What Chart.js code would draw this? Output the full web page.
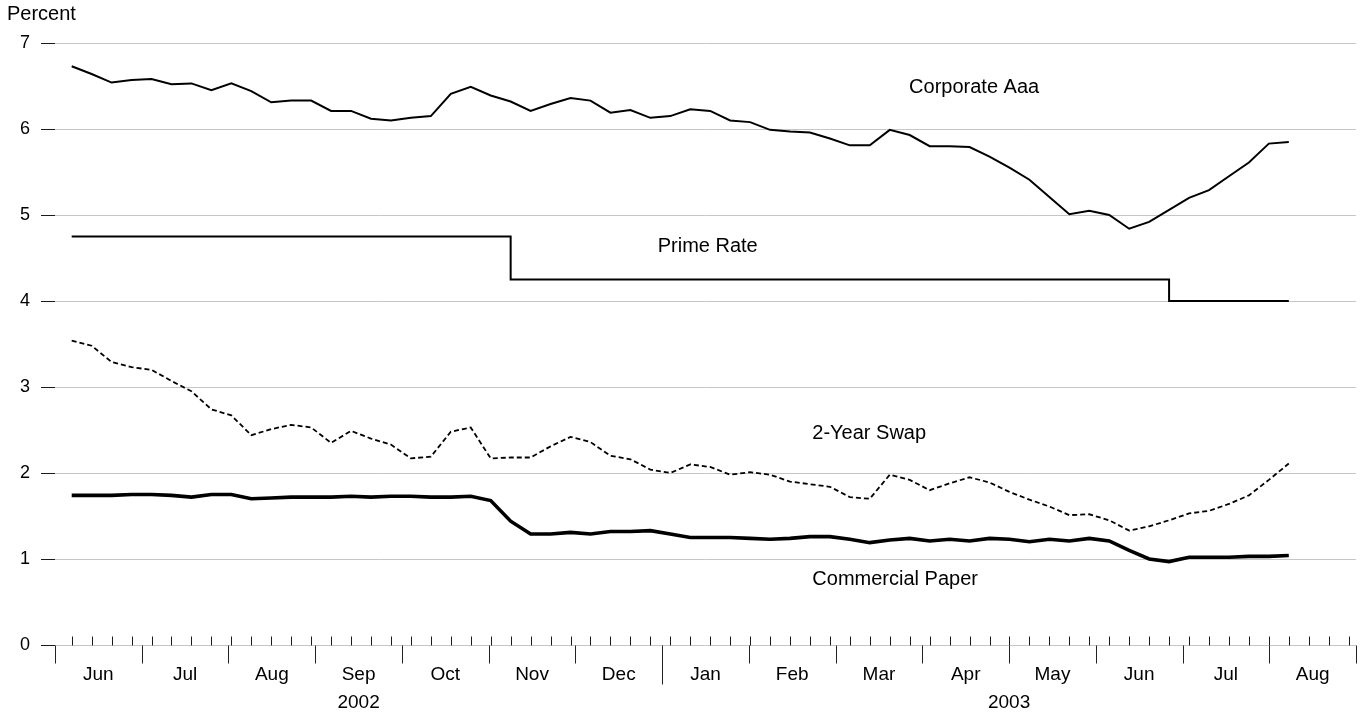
<!DOCTYPE html>
<html>
<head>
<meta charset="utf-8">
<script src="https://cdn.jsdelivr.net/npm/chart.js@4.4.1/dist/chart.umd.min.js"></script>
<style>
  html, body { margin: 0; padding: 0; background: #fff; }
  #wrap { width: 1364px; height: 715px; position: relative; }
</style>
</head>
<body>
<div id="wrap"><canvas id="myChart"></canvas></div>
<script>
// weekly readings, Jun 7 2002 .. Aug 8 2003 (x = week number)
const corporateAaa = [
  6.73, 6.64, 6.54, 6.57, 6.58, 6.52, 6.53, 6.45, 6.53, 6.44,
  6.31, 6.33, 6.33, 6.21, 6.21, 6.12, 6.10, 6.13, 6.15, 6.41,
  6.49, 6.39, 6.32, 6.21, 6.29, 6.36, 6.33, 6.19, 6.22, 6.13,
  6.15, 6.23, 6.21, 6.10, 6.08, 5.99, 5.97, 5.96, 5.89, 5.81,
  5.81, 5.99, 5.93, 5.80, 5.80, 5.79, 5.68, 5.55, 5.41, 5.21,
  5.01, 5.05, 5.00, 4.84, 4.92, 5.06, 5.20, 5.29, 5.45, 5.61,
  5.83, 5.85
];
const primeRate = [
  4.75, 4.75, 4.75, 4.75, 4.75, 4.75, 4.75, 4.75, 4.75, 4.75,
  4.75, 4.75, 4.75, 4.75, 4.75, 4.75, 4.75, 4.75, 4.75, 4.75,
  4.75, 4.75, 4.25, 4.25, 4.25, 4.25, 4.25, 4.25, 4.25, 4.25,
  4.25, 4.25, 4.25, 4.25, 4.25, 4.25, 4.25, 4.25, 4.25, 4.25,
  4.25, 4.25, 4.25, 4.25, 4.25, 4.25, 4.25, 4.25, 4.25, 4.25,
  4.25, 4.25, 4.25, 4.25, 4.25, 4.00, 4.00, 4.00, 4.00, 4.00,
  4.00, 4.00
];
const swap2Year = [
  3.54, 3.48, 3.29, 3.23, 3.20, 3.07, 2.95, 2.74, 2.67, 2.44,
  2.51, 2.56, 2.53, 2.35, 2.49, 2.40, 2.33, 2.17, 2.19, 2.48,
  2.53, 2.17, 2.18, 2.18, 2.31, 2.42, 2.36, 2.20, 2.16, 2.04,
  2.00, 2.10, 2.07, 1.98, 2.01, 1.98, 1.90, 1.87, 1.84, 1.72,
  1.70, 1.98, 1.92, 1.80, 1.88, 1.95, 1.89, 1.78, 1.69, 1.61,
  1.51, 1.52, 1.45, 1.33, 1.38, 1.45, 1.53, 1.56, 1.64, 1.74,
  1.92, 2.11
];
const commercialPaper = [
  1.74, 1.74, 1.74, 1.75, 1.75, 1.74, 1.72, 1.75, 1.75, 1.70,
  1.71, 1.72, 1.72, 1.72, 1.73, 1.72, 1.73, 1.73, 1.72, 1.72,
  1.73, 1.68, 1.44, 1.29, 1.29, 1.31, 1.29, 1.32, 1.32, 1.33,
  1.29, 1.25, 1.25, 1.25, 1.24, 1.23, 1.24, 1.26, 1.26, 1.23,
  1.19, 1.22, 1.24, 1.21, 1.23, 1.21, 1.24, 1.23, 1.20, 1.23,
  1.21, 1.24, 1.21, 1.10, 1.00, 0.97, 1.02, 1.02, 1.02, 1.03,
  1.03, 1.04
];

const monthLabels = ['Jun', 'Jul', 'Aug', 'Sep', 'Oct', 'Nov', 'Dec',
                     'Jan', 'Feb', 'Mar', 'Apr', 'May', 'Jun', 'Jul', 'Aug'];
const yearLabels = ['2002', '2003'];
const monthsInYear = [7, 8];
const yTicks = [0, 1, 2, 3, 4, 5, 6, 7];

// axis layout (in weeks)
const firstMonthEdge = -0.837;
const weeksPerMonth = 4.347;
const weekTickCount = 65;

const FONT = "'Liberation Sans', Arial, Helvetica, sans-serif";

// where the series names sit (week, percent)
const seriesNotes = [
  { text: 'Corporate Aaa', x: 41.97, y: 6.48 },
  { text: 'Prime Rate', x: 29.37, y: 4.63 },
  { text: '2-Year Swap', x: 37.12, y: 2.465 },
  { text: 'Commercial Paper', x: 37.12, y: 0.756 }
];

function toPoints(values) {
  return values.map((v, i) => ({ x: i, y: v }));
}

const axisPainter = {
  id: 'axisPainter',
  afterDraw(chart) {
    const ctx = chart.ctx;
    const x = chart.scales.x;
    const y = chart.scales.y;
    const base = Math.round(y.getPixelForValue(0)) + 0.5;

    ctx.save();
    ctx.lineWidth = 1;
    ctx.strokeStyle = '#1a1a1a';
    ctx.beginPath();
    for (let w = 0; w < weekTickCount; w++) {
      const px = Math.round(x.getPixelForValue(w)) + 0.5;
      ctx.moveTo(px, base - 9);
      ctx.lineTo(px, base);
    }
    ctx.stroke();

    // month boundaries, the year break is longer
    ctx.strokeStyle = '#222';
    ctx.beginPath();
    for (let m = 0; m <= monthLabels.length; m++) {
      const px = Math.round(x.getPixelForValue(firstMonthEdge + m * weeksPerMonth)) + 0.5;
      const len = (m === monthsInYear[0]) ? 39 : 18;
      ctx.moveTo(px, base);
      ctx.lineTo(px, base + len);
    }
    ctx.stroke();

    ctx.fillStyle = '#000';
    ctx.font = '19px ' + FONT;
    ctx.textAlign = 'center';
    ctx.textBaseline = 'middle';
    monthLabels.forEach((lab, m) => {
      const mid = firstMonthEdge + (m + 0.5) * weeksPerMonth;
      ctx.fillText(lab, x.getPixelForValue(mid), base + 29);
    });

    let start = 0;
    yearLabels.forEach((lab, k) => {
      const mid = firstMonthEdge + (start + monthsInYear[k] / 2) * weeksPerMonth;
      ctx.fillText(lab, x.getPixelForValue(mid), base + 57);
      start += monthsInYear[k];
    });

    // series names
    ctx.font = '20px ' + FONT;
    ctx.textAlign = 'left';
    seriesNotes.forEach(n => {
      ctx.fillText(n.text, x.getPixelForValue(n.x), y.getPixelForValue(n.y));
    });

    ctx.fillText('Percent', 7, 14);
    ctx.restore();
  }
};

const ctx = document.getElementById('myChart');

new Chart(ctx, {
  type: 'line',
  data: {
    datasets: [
      {
        label: 'Corporate Aaa',
        data: toPoints(corporateAaa),
        borderColor: '#000',
        borderWidth: 2,
        pointRadius: 0,
        tension: 0
      },
      {
        label: 'Prime Rate',
        data: toPoints(primeRate),
        borderColor: '#000',
        borderWidth: 2,
        pointRadius: 0,
        stepped: true
      },
      {
        label: '2-Year Swap',
        data: toPoints(swap2Year),
        borderColor: '#000',
        borderWidth: 1.8,
        borderDash: [5, 3],
        pointRadius: 0,
        tension: 0
      },
      {
        label: 'Commercial Paper',
        data: toPoints(commercialPaper),
        borderColor: '#000',
        borderWidth: 3.6,
        pointRadius: 0,
        tension: 0
      }
    ]
  },
  options: {
    responsive: true,
    maintainAspectRatio: false,
    animation: false,
    devicePixelRatio: 1,
    layout: { padding: { top: 43, bottom: 70, left: 0, right: 8 } },
    plugins: {
      legend: { display: false },
      tooltip: { enabled: false }
    },
    scales: {
      x: {
        type: 'linear',
        display: false,
        min: firstMonthEdge,
        max: firstMonthEdge + monthLabels.length * weeksPerMonth
      },
      y: {
        min: 0,
        max: 7,
        afterFit: (scale) => { scale.width = 55; },
        afterBuildTicks: (scale) => { scale.ticks = yTicks.map(v => ({ value: v })); },
        border: { display: false },
        grid: {
          color: '#c6c6c6',
          tickColor: '#1a1a1a',
          tickLength: 14,
          lineWidth: 1
        },
        ticks: {
          padding: 11,
          color: '#000',
          font: { family: FONT, size: 18 }
        }
      }
    }
  },
  plugins: [axisPainter]
});
</script>
</body>
</html>
